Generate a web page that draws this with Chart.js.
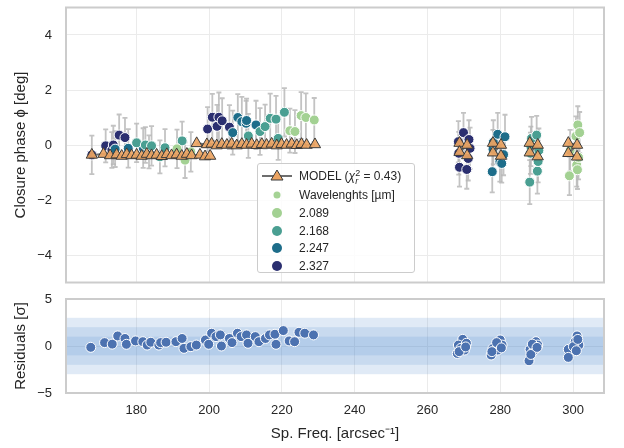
<!DOCTYPE html>
<html>
<head>
<meta charset="utf-8">
<script src="https://cdn.jsdelivr.net/npm/chart.js@4/dist/chart.umd.min.js"></script>
<style>
body { margin:0; background:#fff; width:624px; height:448px; overflow:hidden; font-family:"Liberation Sans", Arial, sans-serif; }
#top { position:absolute; left:0; top:0; }
#bot { position:absolute; left:0; top:290px; }
#legend { position:absolute; left:257px; top:163px; width:156px; height:108px; border:1px solid #cccccc; border-radius:3px; background:rgba(255,255,255,0.85); font-size:12px; color:#262626; }
#legend .row { position:absolute; left:0; height:16px; width:156px; }
#legend .row svg { position:absolute; left:0; top:0; }
#legend .row span.t { position:absolute; left:41px; top:1px; white-space:nowrap; }
.ss { display:inline-block; vertical-align:-4px; font-size:9px; line-height:8px; text-align:left; }
.ss span { display:block; }
</style>
</head>
<body>
<canvas id="top" width="624" height="290"></canvas>
<canvas id="bot" width="624" height="158"></canvas>
<div id="legend">
  <div class="row" style="top:4px"><svg width="40" height="16"><line x1="4" y1="8" x2="34" y2="8" stroke="#6e6e6e" stroke-width="2"/><polygon points="19,2 25,12 13,12" fill="#eca462" stroke="#3a3a3a" stroke-width="1"/></svg><span class="t">MODEL (<i>χ</i><span class="ss"><span>2</span><i>r</i></span> = 0.43)</span></div>
  <div class="row" style="top:23px"><svg width="40" height="16"><circle cx="19" cy="8" r="3.5" fill="#a5d395"/></svg><span class="t">Wavelenghts [µm]</span></div>
  <div class="row" style="top:41px"><svg width="40" height="16"><circle cx="19" cy="8" r="5" fill="#a3d193"/></svg><span class="t">2.089</span></div>
  <div class="row" style="top:59px"><svg width="40" height="16"><circle cx="19" cy="8" r="5" fill="#4a9f92"/></svg><span class="t">2.168</span></div>
  <div class="row" style="top:76px"><svg width="40" height="16"><circle cx="19" cy="8" r="5" fill="#1d6d8a"/></svg><span class="t">2.247</span></div>
  <div class="row" style="top:94px"><svg width="40" height="16"><circle cx="19" cy="8" r="5" fill="#2b2f70"/></svg><span class="t">2.327</span></div>
</div>
<script>
// ---- data ----
var xTicks = [180, 200, 220, 240, 260, 280, 300];
var yTicksTop = [-4, -2, 0, 2, 4];
var yTicksRes = [-5, 0, 5];

var wavelengths = ['2.089', '2.168', '2.247', '2.327'];
var colors = ['#a3d193', '#4a9f92', '#1d6d8a', '#2b2f70'];

var freq2089 = [191.2, 193.4, 195.0, 222.2, 223.6, 225.3, 226.6, 228.9, 299.0, 299.2, 300.8, 301.0, 301.2, 301.3, 301.5, 301.8];
var cp2089   = [-0.14, -0.55, -0.25, 0.52, 0.49, 1.07, 1.0, 0.91, -1.12, -0.2, 0.32, -0.73, -0.9, 0.73, -0.45, 0.45];
var err2089  = [0.7, 0.65, 0.72, 0.8, 0.78, 0.85, 0.88, 0.8, 0.7, 0.75, 0.72, 0.78, 0.7, 0.68, 0.8, 0.75];

var freq2168 = [180.1, 182.5, 184.2, 186.5, 187.9, 192.6, 210.8, 214.0, 215.4, 216.8, 218.4, 219.0, 220.7, 288.1, 288.3, 288.4, 288.6, 290.0, 290.2, 290.4, 290.6];
var cp2168   = [0.08, 0.0, -0.03, -0.43, -0.1, 0.15, 0.33, 0.49, 0.67, 0.97, 0.94, 0.24, 1.19, -1.35, -0.3, -0.05, 0.24, 0.36, -0.95, -0.6, -0.2];
var err2168  = [0.7, 0.65, 0.72, 0.6, 0.68, 0.7, 0.8, 0.85, 0.8, 0.9, 0.85, 0.78, 0.88, 0.8, 0.75, 0.72, 0.78, 0.7, 0.82, 0.76, 0.8];

var freq2247 = [174.2, 177.8, 181.9, 183.5, 206.5, 207.9, 209.0, 210.2, 210.3, 212.9, 277.8, 278.0, 278.1, 279.3, 279.9, 280.4, 280.9, 281.3];
var cp2247   = [-0.15, -0.12, -0.11, -0.25, 0.45, 1.0, 0.85, 0.79, 0.89, 0.73, -0.97, -0.15, 0.1, 0.39, -0.61, -0.67, -0.35, 0.3];
var err2247  = [0.65, 0.7, 0.72, 0.6, 0.8, 0.85, 0.9, 0.82, 0.8, 0.88, 0.75, 0.7, 0.8, 0.78, 0.72, 0.7, 0.75, 0.8];

var freq2327 = [167.8, 171.6, 173.3, 173.7, 175.3, 176.9, 199.6, 200.9, 202.2, 202.7, 203.6, 205.6, 268.5, 268.8, 269.9, 270.8, 271.2, 271.7, 268.6, 271.4];
var cp2327   = [-0.36, -0.03, -0.18, 0.0, 0.36, 0.27, 0.58, 1.01, 0.68, 1.01, 0.88, 0.65, 0.12, -0.81, 0.45, -0.89, -0.49, -0.12, -0.3, 0.2];
var err2327  = [0.7, 0.6, 0.65, 0.7, 0.75, 0.72, 0.8, 0.85, 0.78, 0.9, 0.82, 0.8, 0.75, 0.7, 0.72, 0.7, 0.8, 0.75, 0.78, 0.7];

// model, null = break in the line
var modelFreq = [167.8, 171.0, 172.8, 174.6, 176.0, 177.4, 178.7, 180.1, 181.5, 182.9, 184.2, 185.6, 187.0, 188.4, 189.7, 191.1, 192.5, 193.9, 195.2, 197.5, 198.9, 200.3,
  198.5,
  196.6, 199.4, 200.7, 202.1, 203.5, 204.9, 206.2, 207.6, 209.0, 210.3, 211.7, 213.1, 214.5, 215.8, 217.2, 218.6, 219.9, 221.3, 222.7, 224.1, 225.4, 226.8, 229.1,
  250,
  268.8, 270.9, 268.8, 270.9,
  275,
  278.0, 280.2, 278.0, 280.2,
  285,
  288.1, 290.3, 288.1, 290.3,
  295,
  298.7, 301.1, 298.7, 301.1];
var modelCp = [-0.36, -0.33, -0.38, -0.35, -0.4, -0.34, -0.38, -0.36, -0.4, -0.33, -0.38, -0.36, -0.41, -0.34, -0.38, -0.35, -0.4, -0.33, -0.38, -0.36, -0.42, -0.4,
  null,
  0.06, 0.02, 0.04, -0.02, 0.03, 0.0, 0.04, -0.02, 0.03, 0.0, 0.04, -0.01, 0.03, 0.0, 0.04, -0.02, 0.03, 0.0, 0.04, -0.01, 0.03, 0.0, 0.02,
  null,
  0.07, 0.0, -0.26, -0.38,
  null,
  0.07, 0.0, -0.28, -0.4,
  null,
  0.07, 0.0, -0.28, -0.42,
  null,
  0.07, 0.0, -0.3, -0.43];

// residuals [sigma]
var resFreq = [167.5, 171.3, 173.4, 174.9, 176.9, 177.3, 179.8, 181.8, 183.0, 184.0, 186.2, 186.7, 188.2, 190.9, 192.6, 193.1, 195.0, 196.5,
  199.0, 199.9, 200.7, 201.9, 203.1, 203.4, 205.6, 206.3, 207.8, 208.8, 210.3, 210.7, 212.7, 213.7, 215.5, 216.6, 218.1, 218.4, 220.4, 222.0, 223.5, 224.7, 226.3, 228.7,
  269.7, 268.5, 268.2, 270.2, 270.7, 269.2, 268.7, 270.5,
  280.0, 278.0, 277.5, 280.5, 279.3, 279.0, 277.7, 280.3,
  289.8, 288.2, 287.9, 290.3, 289.3, 288.8, 288.4, 290.1,
  301.1, 300.6, 298.7, 298.7, 301.6, 300.1, 300.9, 301.3];
var resVal = [-0.14, 0.36, 0.2, 1.07, 0.8, 0.18, 0.54, 0.46, 0.1, 0.4, 0.1, 0.36, 0.4, 0.46, 0.8, -0.25, -0.07, 0.1,
  0.64, 0.18, 1.36, 1.0, 1.18, 0.0, 0.8, 0.36, 1.36, 1.0, 1.18, 0.29, 1.0, 0.46, 0.8, 1.18, 1.25, 0.18, 1.64, 0.54, 0.46, 1.46, 1.36, 1.18,
  0.71, 0.1, -0.79, -0.43, 0.29, -0.25, -0.6, -0.1,
  0.64, -0.25, -0.96, 0.1, -0.43, 0.36, -0.6, -0.2,
  0.46, -0.36, -1.57, 0.1, -0.43, 0.2, -0.9, -0.15,
  1.07, 0.46, -0.36, -1.21, 0.1, -0.07, -0.5, 0.7];

var xMin = 160.7, xMax = 308.5;
var txt = '#262626';
var gridCol = '#ebebeb';

function pts(xs, ys) {
  return xs.map(function(x, i) { return {x: x, y: ys[i]}; });
}

// frame around the plot area, like the matplotlib spines
var frame = {
  id: 'frame',
  afterDatasetsDraw: function(chart) {
    var a = chart.chartArea, c = chart.ctx;
    c.save();
    c.strokeStyle = '#cccccc';
    c.lineWidth = 2;
    c.strokeRect(a.left, a.top, a.right - a.left, a.bottom - a.top);
    c.restore();
  }
};

var errorBars = {
  id: 'errorBars',
  beforeDatasetsDraw: function(chart) {
    var c = chart.ctx, xs = chart.scales.x, ys = chart.scales.y;
    c.save();
    c.strokeStyle = 'rgba(185,185,185,0.85)';
    c.lineWidth = 1.8;
    chart.data.datasets.forEach(function(ds) {
      if (!ds.errors) return;
      ds.data.forEach(function(p, i) {
        var px = xs.getPixelForValue(p.x);
        var y1 = ys.getPixelForValue(p.y + ds.errors[i]);
        var y2 = ys.getPixelForValue(p.y - ds.errors[i]);
        c.beginPath();
        c.moveTo(px, y1); c.lineTo(px, y2);
        c.moveTo(px - 2.5, y1); c.lineTo(px + 2.5, y1);
        c.moveTo(px - 2.5, y2); c.lineTo(px + 2.5, y2);
        c.stroke();
      });
    });
    c.restore();
  }
};

// 1, 2 and 3 sigma bands stacked on top of each other
var sigmaBands = {
  id: 'sigmaBands',
  beforeDatasetsDraw: function(chart) {
    var c = chart.ctx, a = chart.chartArea, ys = chart.scales.y;
    c.save();
    c.fillStyle = 'rgba(100,150,210,0.2)';
    [3, 2, 1].forEach(function(s) {
      var t = ys.getPixelForValue(s), b = ys.getPixelForValue(-s);
      c.fillRect(a.left, t, a.right - a.left, b - t);
    });
    c.restore();
  }
};

function noPadV(s) { s.width = 66; s.paddingTop = 0; s.paddingBottom = 0; }
function noPadH(h) { return function(s) { s.height = h; s.paddingLeft = 0; s.paddingRight = 0; }; }
function minus(v) { return v < 0 ? '\u2212' + (-v) : '' + v; }

var tickFont = {family: 'Liberation Sans', size: 13};
var titleFont = {family: 'Liberation Sans', size: 15};

var datasets = [{
  label: 'MODEL',
  data: pts(modelFreq, modelCp),
  showLine: true,
  spanGaps: false,
  borderColor: '#6e6e6e',
  borderWidth: 2,
  pointStyle: 'triangle',
  pointRadius: 6.5,
  pointBackgroundColor: 'rgba(236,164,98,0.92)',
  pointBorderColor: '#3a3a3a',
  pointBorderWidth: 1,
  order: 0
}];
var series = [[freq2089, cp2089, err2089], [freq2168, cp2168, err2168], [freq2247, cp2247, err2247], [freq2327, cp2327, err2327]];
series.forEach(function(s, k) {
  datasets.push({
    label: wavelengths[k],
    data: pts(s[0], s[1]),
    errors: s[2],
    pointRadius: 5,
    pointBackgroundColor: colors[k],
    pointBorderColor: '#ffffff',
    pointBorderWidth: 1,
    order: 1 + k
  });
});

new Chart(document.getElementById('top'), {
  type: 'scatter',
  data: { datasets: datasets },
  options: {
    responsive: false,
    animation: false,
    devicePixelRatio: 1,
    layout: { padding: {left: 0, right: 20, top: 7, bottom: 7} },
    plugins: { legend: {display: false}, tooltip: {enabled: false} },
    scales: {
      x: {
        type: 'linear', min: xMin, max: xMax,
        afterBuildTicks: function(s) { s.ticks = xTicks.map(function(v) { return {value: v}; }); },
        afterFit: noPadH(0),
        ticks: {display: false},
        grid: {color: gridCol, drawTicks: false},
        border: {display: false}
      },
      y: {
        min: -5, max: 5,
        afterBuildTicks: function(s) { s.ticks = yTicksTop.map(function(v) { return {value: v}; }); },
        afterFit: noPadV,
        ticks: {font: tickFont, color: txt, padding: 14, callback: minus},
        grid: {color: gridCol, drawTicks: false},
        border: {display: false},
        title: {display: true, text: 'Closure phase \u03d5 [deg]', font: titleFont, color: txt, padding: {top: 12, bottom: 0}}
      }
    }
  },
  plugins: [errorBars, frame]
});

new Chart(document.getElementById('bot'), {
  type: 'scatter',
  data: { datasets: [{
    label: 'Residuals',
    data: pts(resFreq, resVal),
    pointRadius: 5,
    pointBackgroundColor: '#4c72b0',
    pointBorderColor: '#ffffff',
    pointBorderWidth: 1
  }] },
  options: {
    responsive: false,
    animation: false,
    devicePixelRatio: 1,
    layout: { padding: {left: 0, right: 20, top: 9, bottom: 0} },
    plugins: { legend: {display: false}, tooltip: {enabled: false} },
    scales: {
      x: {
        type: 'linear', min: xMin, max: xMax,
        afterBuildTicks: function(s) { s.ticks = xTicks.map(function(v) { return {value: v}; }); },
        afterFit: noPadH(55),
        ticks: {font: tickFont, color: txt, padding: 10},
        grid: {color: gridCol, drawTicks: false},
        border: {display: false},
        title: {display: true, text: 'Sp. Freq. [arcsec\u207b\u00b9]', font: titleFont, color: txt, padding: {top: 0, bottom: 5}}
      },
      y: {
        min: -5, max: 5,
        afterBuildTicks: function(s) { s.ticks = yTicksRes.map(function(v) { return {value: v}; }); },
        afterFit: noPadV,
        ticks: {font: tickFont, color: txt, padding: 14, callback: minus},
        grid: {color: gridCol, drawTicks: false},
        border: {display: false},
        title: {display: true, text: 'Residuals [\u03c3]', font: titleFont, color: txt, padding: {top: 12, bottom: 0}}
      }
    }
  },
  plugins: [sigmaBands, frame]
});
</script>
</body>
</html>
